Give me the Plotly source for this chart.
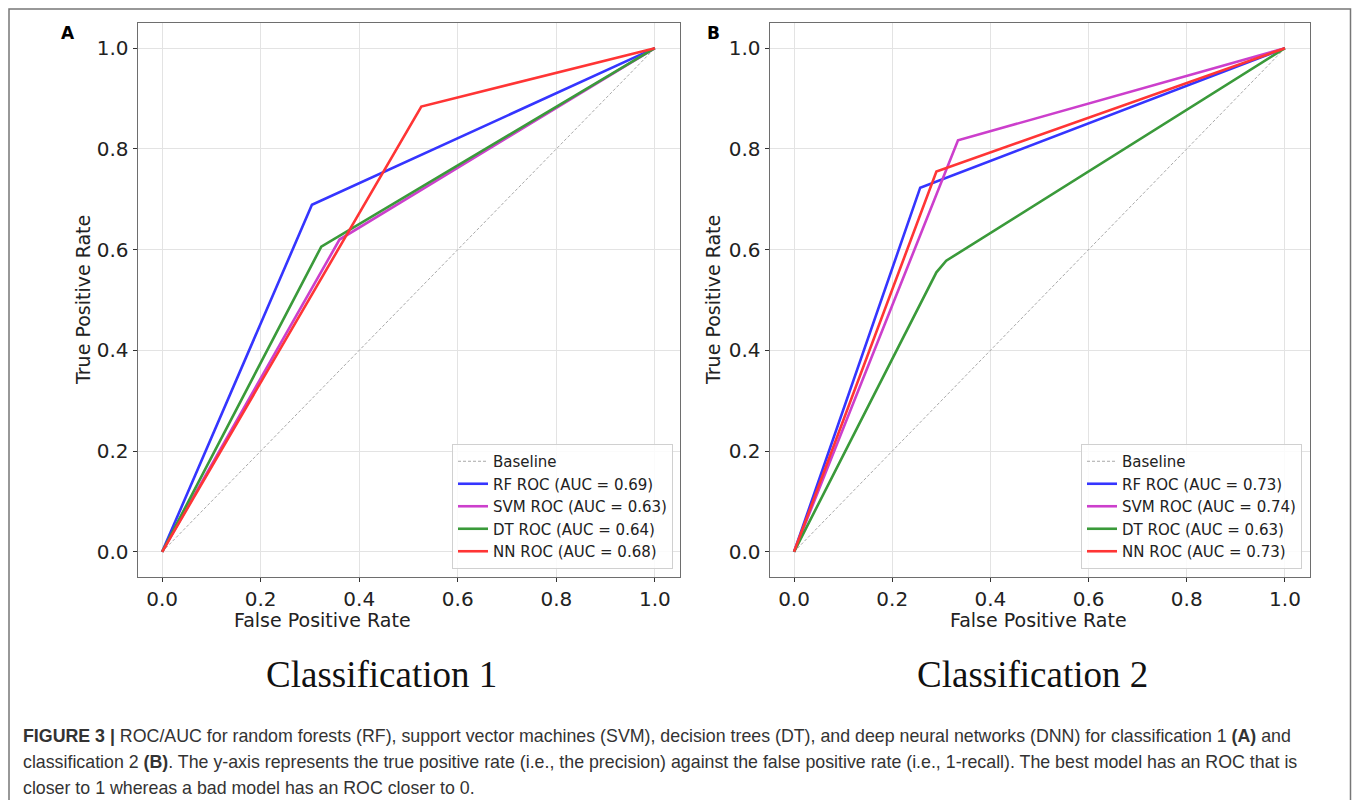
import plotly.graph_objects as go

# page body has an 8px margin on every side: keep the figure inside the window
OFF = 8
W, H = 1360 - 2 * OFF, 808 - 2 * OFF


def px(x):
    return (x - OFF) / W


def py(y):
    return 1 - (y - OFF) / H


# ---------------- data ----------------
baseline = [0.0, 1.0]

# Panel A (Classification 1)
a_rf_fpr = [0.0, 0.304, 1.0]
a_rf_tpr = [0.0, 0.689, 1.0]
a_svm_fpr = [0.0, 0.36, 1.0]
a_svm_tpr = [0.0, 0.62, 1.0]
a_dt_fpr = [0.0, 0.323, 1.0]
a_dt_tpr = [0.0, 0.606, 1.0]
a_nn_fpr = [0.0, 0.526, 1.0]
a_nn_tpr = [0.0, 0.884, 1.0]
a_auc = {"RF": "0.69", "SVM": "0.63", "DT": "0.64", "NN": "0.68"}

# Panel B (Classification 2)
b_rf_fpr = [0.0, 0.257, 1.0]
b_rf_tpr = [0.0, 0.723, 1.0]
b_svm_fpr = [0.0, 0.334, 1.0]
b_svm_tpr = [0.0, 0.817, 1.0]
b_dt_fpr = [0.0, 0.29, 0.31, 1.0]
b_dt_tpr = [0.0, 0.555, 0.578, 1.0]
b_nn_fpr = [0.0, 0.29, 1.0]
b_nn_tpr = [0.0, 0.755, 1.0]
b_auc = {"RF": "0.73", "SVM": "0.74", "DT": "0.63", "NN": "0.73"}

ticks = [0.0, 0.2, 0.4, 0.6, 0.8, 1.0]
tick_text = ["0.0", "0.2", "0.4", "0.6", "0.8", "1.0"]

colors = {"RF": "#3535ff", "SVM": "#cc3fcc", "DT": "#3a9a3a", "NN": "#ff3535"}

fig = go.Figure()


def add_panel(xa, ya, leg, rf, svm, dt, nn, auc):
    fig.add_trace(go.Scatter(x=baseline, y=baseline, mode="lines", name="Baseline",
                             line=dict(color="#a8a8a8", width=1, dash="3px,2px"),
                             xaxis=xa, yaxis=ya, legend=leg))
    for key, (fx, ty) in [("RF", rf), ("SVM", svm), ("DT", dt), ("NN", nn)]:
        fig.add_trace(go.Scatter(x=fx, y=ty, mode="lines",
                                 name=f"{key} ROC (AUC = {auc[key]})",
                                 line=dict(color=colors[key], width=2.6),
                                 xaxis=xa, yaxis=ya, legend=leg))


add_panel("x", "y", "legend", (a_rf_fpr, a_rf_tpr), (a_svm_fpr, a_svm_tpr),
          (a_dt_fpr, a_dt_tpr), (a_nn_fpr, a_nn_tpr), a_auc)
add_panel("x2", "y2", "legend2", (b_rf_fpr, b_rf_tpr), (b_svm_fpr, b_svm_tpr),
          (b_dt_fpr, b_dt_tpr), (b_nn_fpr, b_nn_tpr), b_auc)

tick_font = dict(family="DejaVu Sans", size=20, color="#222222")
axis_common = dict(range=[-0.05, 1.05], tickvals=ticks, ticktext=tick_text,
                   showgrid=True, gridcolor="#e3e3e3", gridwidth=1,
                   showline=True, linecolor="#6e6e6e", linewidth=1, mirror=True,
                   ticks="outside", ticklen=4, tickcolor="#333333",
                   tickfont=tick_font, zeroline=False, fixedrange=True)

ydom = [py(577), py(23)]
fig.update_layout(
    xaxis=dict(domain=[px(137.5), px(679.5)], anchor="y", **axis_common),
    yaxis=dict(domain=ydom, anchor="x", **axis_common),
    xaxis2=dict(domain=[px(769.5), px(1309.5)], anchor="y2", **axis_common),
    yaxis2=dict(domain=ydom, anchor="x2", **axis_common),
)

leg_common = dict(font=dict(family="DejaVu Sans", size=15, color="#222222"),
                  bgcolor="rgba(255,255,255,0.85)", bordercolor="#d0d0d0", borderwidth=1,
                  xanchor="right", yanchor="bottom", itemwidth=30,
                  itemclick=False, itemdoubleclick=False)
fig.update_layout(
    legend=dict(x=px(673), y=py(569), **leg_common),
    legend2=dict(x=px(1302), y=py(569), **leg_common),
    showlegend=True,
)

ann = []
lab_font = dict(family="DejaVu Sans", size=19, color="#222222")
for xc in (322.5, 1038):
    ann.append(dict(text="False Positive Rate", x=px(xc), y=py(620), xref="paper", yref="paper",
                    showarrow=False, font=lab_font, xanchor="center", yanchor="middle"))
for xc in (83, 713):
    ann.append(dict(text="True Positive Rate", x=px(xc), y=py(300), xref="paper", yref="paper",
                    showarrow=False, font=lab_font, textangle=-90, xanchor="center", yanchor="middle"))
for t, xc in (("A", 68), ("B", 713)):
    ann.append(dict(text=f"<b>{t}</b>", x=px(xc), y=py(33), xref="paper", yref="paper",
                    showarrow=False, font=dict(family="DejaVu Sans", size=17, color="#000000"),
                    xanchor="center", yanchor="middle"))
for t, xc in (("Classification 1", 381), ("Classification 2", 1032)):
    ann.append(dict(text=t, x=px(xc), y=py(674), xref="paper", yref="paper",
                    showarrow=False, font=dict(family="Liberation Serif", size=37, color="#111111"),
                    xanchor="center", yanchor="middle"))

caption_lines = [
    "<b>FIGURE 3 |</b> ROC/AUC for random forests (RF), support vector machines (SVM), decision trees (DT), and deep neural networks (DNN) for classification 1 <b>(A)</b> and",
    "classification 2 <b>(B)</b>. The y-axis represents the true positive rate (i.e., the precision) against the false positive rate (i.e., 1-recall). The best model has an ROC that is",
    "closer to 1 whereas a bad model has an ROC closer to 0.",
]
for i, line in enumerate(caption_lines):
    ann.append(dict(text=line, x=px(21), y=py(736 + 26 * i), xref="paper", yref="paper",
                    showarrow=False, font=dict(family="Liberation Sans", size=17.8, color="#333333"),
                    xanchor="left", yanchor="middle", align="left"))

fig.update_layout(annotations=ann)

fig.add_shape(type="rect", xref="paper", yref="paper",
              x0=px(9), x1=px(1350.5), y0=-0.02, y1=py(9),
              line=dict(color="#777777", width=1.5), fillcolor="rgba(0,0,0,0)", layer="below")

fig.update_layout(width=W, height=H, margin=dict(l=0, r=0, t=0, b=0),
                  paper_bgcolor="white", plot_bgcolor="white", autosize=False)

fig.write_html("out.html", config={"displayModeBar": False})
